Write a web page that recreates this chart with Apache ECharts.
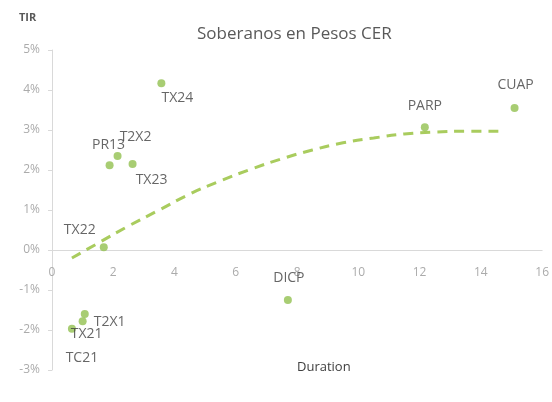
<!DOCTYPE html>
<html>
<head>
<meta charset="utf-8">
<script src="https://cdn.jsdelivr.net/npm/echarts@6/dist/echarts.min.js"></script>
<style>
  html, body { margin: 0; padding: 0; background: #fff; }
  #main { width: 552px; height: 402px; }
</style>
</head>
<body>
<div id="main"></div>
<script>
// bonos
const bonds = ['TX24', 'PR13', 'T2X2', 'TX23', 'TX22', 'DICP', 'PARP', 'CUAP', 'T2X1', 'TX21', 'TC21'];
const duration = [3.57, 1.88, 2.14, 2.63, 1.69, 7.7, 12.17, 15.1, 1.07, 1.0, 0.65];
const tir = [4.17, 2.12, 2.35, 2.15, 0.07, -1.25, 3.07, 3.55, -1.6, -1.78, -1.97];

// linea de tendencia
const trendX = [0.65, 1.5, 2.5, 3.5, 4.5, 5.5, 6.5, 7.5, 8.5, 9.5, 10.5, 11.5, 12.5, 13.5, 14.7];
const trendY = [-0.2, 0.17, 0.6, 1.0, 1.4, 1.73, 2.02, 2.28, 2.5, 2.68, 2.8, 2.9, 2.95, 2.97, 2.97];

const xTicks = [0, 2, 4, 6, 8, 10, 12, 14, 16];

// donde va cada etiqueta
const labelPos = {
  TX24: { position: 'bottom', offset: [16, -1] },
  PR13: { position: 'top', offset: [-1, -4] },
  T2X2: { position: 'top', offset: [18, -3] },
  TX23: { position: 'bottom', offset: [19, 0] },
  TX22: { position: 'top', offset: [-24, -1] },
  DICP: { position: 'top', offset: [1, -6] },
  PARP: { position: 'top', offset: [0, -5] },
  CUAP: { position: 'top', offset: [1, -7] },
  T2X1: { position: 'right', offset: [0, 8] },
  TX21: { position: 'bottom', offset: [4, -3] },
  TC21: { position: 'bottom', offset: [10, 13] }
};

const chart = echarts.init(document.getElementById('main'));

const points = bonds.map((b, i) => ({
  value: [duration[i], tir[i]],
  name: b,
  label: labelPos[b]
}));

const option = {
  animation: false,
  textStyle: { fontFamily: 'Open Sans' },
  title: {
    text: 'Soberanos en Pesos CER',
    left: 192,
    top: 21,
    textStyle: { fontSize: 17, fontWeight: 'normal', color: '#595959', fontFamily: 'Open Sans' }
  },
  grid: { left: 52, right: 8, top: 50, bottom: 32 },
  xAxis: {
    type: 'value',
    min: 0,
    max: 16,
    interval: 2,
    offset: -120,
    axisLine: { onZero: false, lineStyle: { color: '#d9d9d9' } },
    axisTick: { show: false },
    splitLine: { show: false },
    axisLabel: {
      color: '#ababab', fontSize: 12, margin: 17,
      formatter: v => xTicks.includes(v) ? String(v) : ''
    }
  },
  yAxis: {
    type: 'value',
    min: -3,
    max: 5,
    interval: 1,
    axisLine: { show: true, onZero: false, lineStyle: { color: '#d9d9d9' } },
    axisTick: { show: true, length: 4, lineStyle: { color: '#d9d9d9' } },
    splitLine: { show: false },
    axisLabel: { color: '#ababab', fontSize: 12, margin: 12, formatter: v => v + '%' }
  },
  graphic: [
    { type: 'text', left: 19, top: 12, style: { text: 'TIR', fontSize: 11, fontWeight: 'bold', fill: '#595959', fontFamily: 'Open Sans' } },
    { type: 'text', left: 297, top: 361, style: { text: 'Duration', fontSize: 13, fill: '#404040', fontFamily: 'Open Sans' } }
  ],
  series: [
    {
      type: 'line',
      data: trendX.map((x, i) => [x, trendY[i]]),
      smooth: true,
      showSymbol: false,
      lineStyle: { color: '#a9cc5e', width: 3, type: [10, 7] },
      z: 1
    },
    {
      type: 'scatter',
      data: points,
      symbolSize: 8,
      itemStyle: { color: '#92c050' },
      label: {
        show: true,
        formatter: p => p.name,
        color: '#404040',
        fontSize: 14,
        fontFamily: 'Open Sans'
      },
      z: 3
    }
  ]
};

chart.setOption(option);
</script>
</body>
</html>
